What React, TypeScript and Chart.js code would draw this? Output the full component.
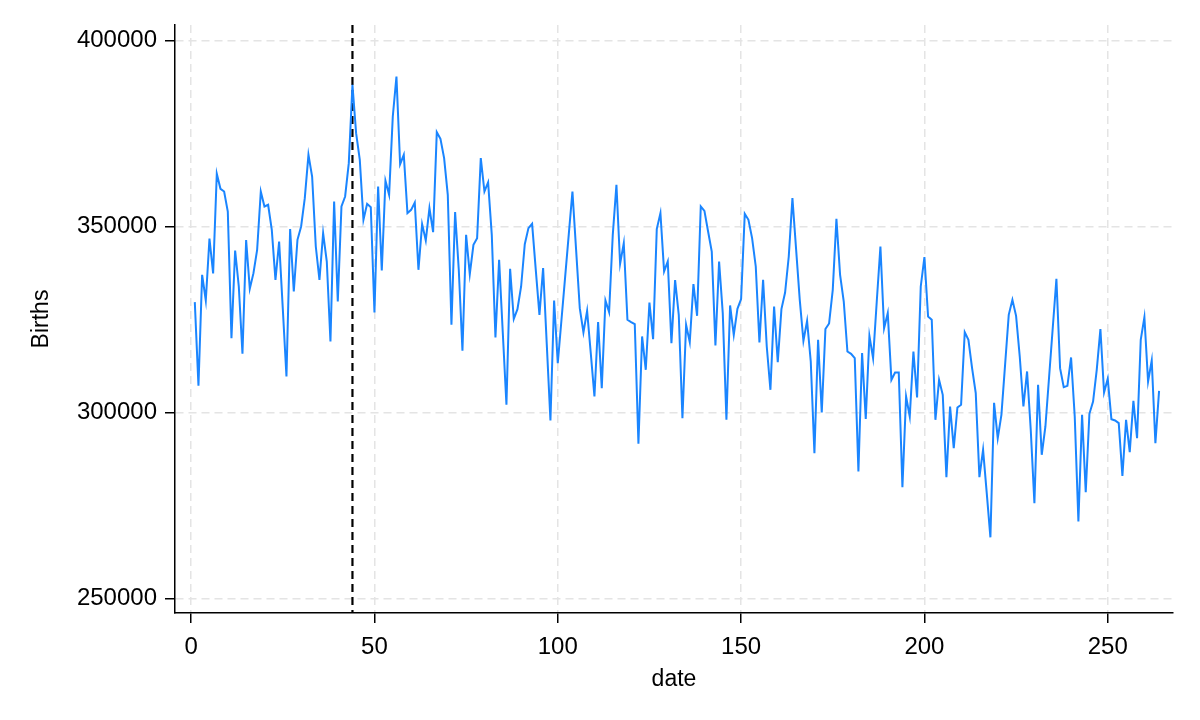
import React, { useEffect, useRef } from 'react';
import Chart from 'chart.js/auto';

// monthly births, date index 1..264
const births = [
  329760, 307264, 337100, 330200, 346860, 337460, 364250, 360220, 359500, 354120,
  320080, 343640, 333960, 315870, 346420, 333340, 337550, 343820, 359500, 355470,
  355920, 349200, 335760, 346060, 328000, 309770, 349380, 332620, 346510, 350090,
  357710, 369360, 363530, 344710, 335760, 348300, 340680, 319180, 356810, 329930,
  355470, 358160, 367120, 388170, 375180, 368010, 351890, 356190, 355290, 326980,
  360850, 338270, 362370, 358610, 379660, 390410, 366850, 369360, 353680, 354570,
  356540, 338450, 350720, 346330, 355020, 348570, 375450, 373660, 368460, 358610,
  323660, 353950, 338450, 316670, 347850, 337280, 345170, 346960, 368460, 359500,
  361920, 347850, 320260, 341130, 321600, 302160, 338710, 325230, 327870, 333970,
  345340, 349650, 350810, 338450, 326350, 338890, 318400, 297950, 330200, 313360,
  324890, 336430, 347970, 359500, 343820, 328140, 321600, 327420, 316050, 304400,
  324380, 306640, 330200, 327070, 347850, 361290, 340060, 345610, 325010, 324380,
  323840, 291670, 320530, 311570, 329660, 319810, 349380, 353680, 338020, 340700,
  318730, 335670, 326350, 298570, 323660, 319000, 334590, 326080, 355470, 354300,
  348750, 343370, 318110, 340690, 326800, 298130, 328860, 320970, 327960, 330560,
  353500, 351890, 346960, 339340, 318910, 335760, 317840, 306190, 328590, 313630,
  327870, 332350, 342030, 357710, 343990, 330380, 319360, 324740, 313810, 289170,
  319630, 300100, 322540, 324020, 333070, 352150, 337100, 329930, 316490, 315870,
  314700, 284240, 316050, 298390, 320700, 314700, 329930, 344720, 322770, 326800,
  308880, 310850, 310850, 280030, 304400, 299020, 316490, 304130, 333970, 341850,
  325900, 325010, 298130, 308880, 304850, 282710, 301710, 290510, 301440, 302160,
  321690, 319630, 312010, 305290, 282710, 290060, 278410, 266540, 302700, 293200,
  299470, 312900, 326350, 330380, 326080, 315150, 301710, 311120, 295440, 275730,
  307530, 288720, 296330, 309560, 322800, 336030, 312010, 306910, 307260, 314880,
  299020, 270800, 299470, 278680, 299740, 303050, 311570, 322500, 305470, 309150,
  298300, 297950, 297230, 283070, 298130, 289430, 303240, 293200, 319630, 325720,
  308430, 314070, 291850, 305920,
];
const dates = births.map((_, i) => i + 1);

const xTicks = [0, 50, 100, 150, 200, 250];
const yTicks = [250000, 300000, 350000, 400000];
const markerDate = 44;

const FONT = 'Liberation Sans, Arial, Helvetica, sans-serif';

const markerLine = {
  id: 'markerLine',
  beforeDatasetsDraw(chart: any) {
    const { ctx, chartArea, scales } = chart;
    const x = scales.x.getPixelForValue(markerDate);
    ctx.save();
    ctx.strokeStyle = '#000';
    ctx.lineWidth = 2.2;
    ctx.setLineDash([8, 5]);
    ctx.beginPath();
    ctx.moveTo(x, chartArea.top);
    ctx.lineTo(x, chartArea.bottom);
    ctx.stroke();
    ctx.restore();
  },
};

export default function App() {
  const canvasRef = useRef<HTMLCanvasElement | null>(null);
  const chartRef = useRef<Chart | null>(null);

  useEffect(() => {
    if (chartRef.current) chartRef.current.destroy();
    const ctx = canvasRef.current?.getContext('2d');
    if (!ctx) return;

    const gridCommon = {
      color: '#e4e4e4',
      lineWidth: 1.5,
      drawTicks: true,
      tickLength: 10,
      tickColor: '#000',
      tickWidth: 1.5,
      tickBorderDash: [],
    };
    const borderCommon = { display: true, color: '#000', width: 1.5, dash: [8, 5] };

    chartRef.current = new Chart(ctx, {
      type: 'line',
      data: {
        datasets: [
          {
            label: 'Births',
            data: dates.map((d, i) => ({ x: d, y: births[i] })),
            borderColor: '#1a85ff',
            borderWidth: 2,
            pointRadius: 0,
            tension: 0,
            fill: false,
          },
        ],
      },
      options: {
        animation: false,
        responsive: true,
        maintainAspectRatio: false,
        layout: { padding: { top: 25, right: 27, left: 0, bottom: 0 } },
        plugins: {
          legend: { display: false },
          tooltip: { enabled: false },
        },
        scales: {
          x: {
            type: 'linear',
            min: -4.4,
            max: 267.8,
            grid: gridCommon,
            border: borderCommon,
            afterBuildTicks: (scale: any) => {
              scale.ticks = xTicks.map((v) => ({ value: v }));
            },
            afterFit: (scale: any) => {
              scale.height = 107;
            },
            ticks: {
              color: '#000',
              padding: 10,
              maxRotation: 0,
              autoSkip: false,
              font: { family: FONT, size: 24 },
            },
            title: {
              display: true,
              text: 'date',
              color: '#000',
              padding: { top: 0, bottom: 27 },
              font: { family: FONT, size: 23 },
            },
          },
          y: {
            type: 'linear',
            min: 246200,
            max: 404250,
            grid: gridCommon,
            border: borderCommon,
            afterBuildTicks: (scale: any) => {
              scale.ticks = yTicks.map((v) => ({ value: v }));
            },
            afterFit: (scale: any) => {
              scale.width = 175;
            },
            ticks: {
              color: '#000',
              padding: 8,
              autoSkip: false,
              font: { family: FONT, size: 24 },
              callback: (v: any) => String(v),
            },
            title: {
              display: true,
              text: 'Births',
              color: '#000',
              padding: { top: 28, bottom: 0 },
              font: { family: FONT, size: 23 },
            },
          },
        },
      },
      plugins: [markerLine],
    });

    return () => {
      if (chartRef.current) {
        chartRef.current.destroy();
        chartRef.current = null;
      }
    };
  }, []);

  return (
    <div style={{ position: 'absolute', left: 0, top: 0, width: 1200, height: 720, background: '#fff' }}>
      <canvas ref={canvasRef} />
    </div>
  );
}
